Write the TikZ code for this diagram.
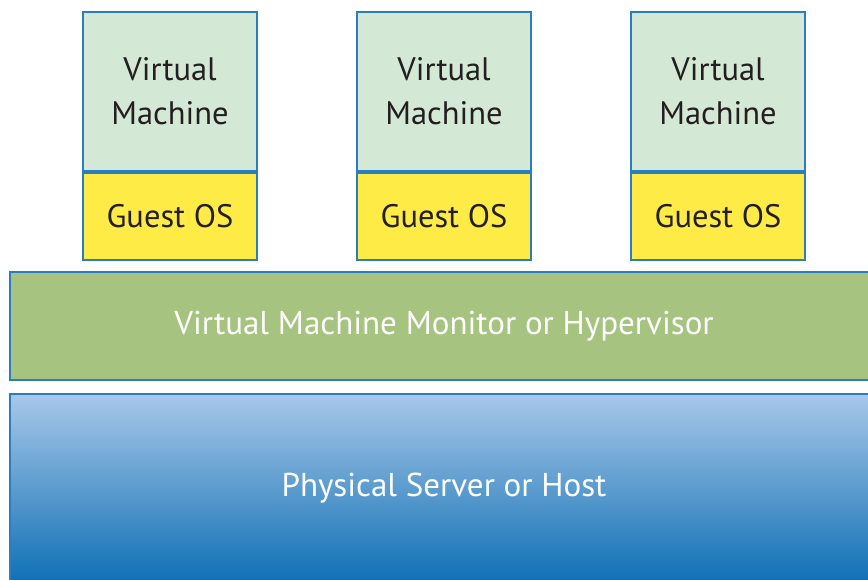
\documentclass[tikz,border=0pt]{standalone}
\usepackage{fontspec}
\setmainfont{PT Sans}
\usepackage{tikz}
\usetikzlibrary{positioning}

\definecolor{edge}{HTML}{2A7DC0}
\definecolor{vmfill}{HTML}{D4E9D5}
\definecolor{osfill}{HTML}{FFEB45}
\definecolor{hvfill}{HTML}{A6C47F}
\definecolor{hosttop}{HTML}{A8C8E8}
\definecolor{hostbot}{HTML}{0F70B5}
\definecolor{ink}{HTML}{231F20}

\begin{document}
\begin{tikzpicture}
  [
    x=1pt, y=-1pt,
    vm/.style    = {draw=edge, line width=1.8pt, fill=vmfill, inner sep=0pt,
                    minimum width=174pt, minimum height=159pt, align=center,
                    text=ink, font=\fontsize{32.5}{44}\selectfont},
    os/.style    = {vm, fill=osfill, minimum height=87pt},
    layer/.style = {draw=edge, line width=1.8pt, inner sep=0pt,
                    minimum width=868pt, text=white,
                    font=\fontsize{33}{44}\selectfont},
  ]

%Picture frame
\def \wmax{868}
\def \hmax{580}
\clip (0,0) rectangle (\wmax,\hmax);
\fill[white] (0,0) rectangle (\wmax,\hmax);

%Left edge of the first VM and VM separation
\def \xvm{170}
\def \dvm{274}

%Virtual machines with their guest OS
\foreach \i in {1,2,3}
{
\node[vm] (vm\i) at (\xvm + \i*\dvm - \dvm, 91.5) {Virtual\\Machine};
\node[os, below=0pt of vm\i] (os\i) {Guest OS};
}

%Hypervisor layer
\node[layer, fill=hvfill, minimum height=108pt] (hyper) at (444,326)
  {Virtual Machine Monitor or Hypervisor};

%Physical host layer
\node[layer, top color=hosttop, bottom color=hostbot, minimum height=188pt] (host)
  at (444,488) {Physical Server or Host};
\end{tikzpicture}
\end{document}
